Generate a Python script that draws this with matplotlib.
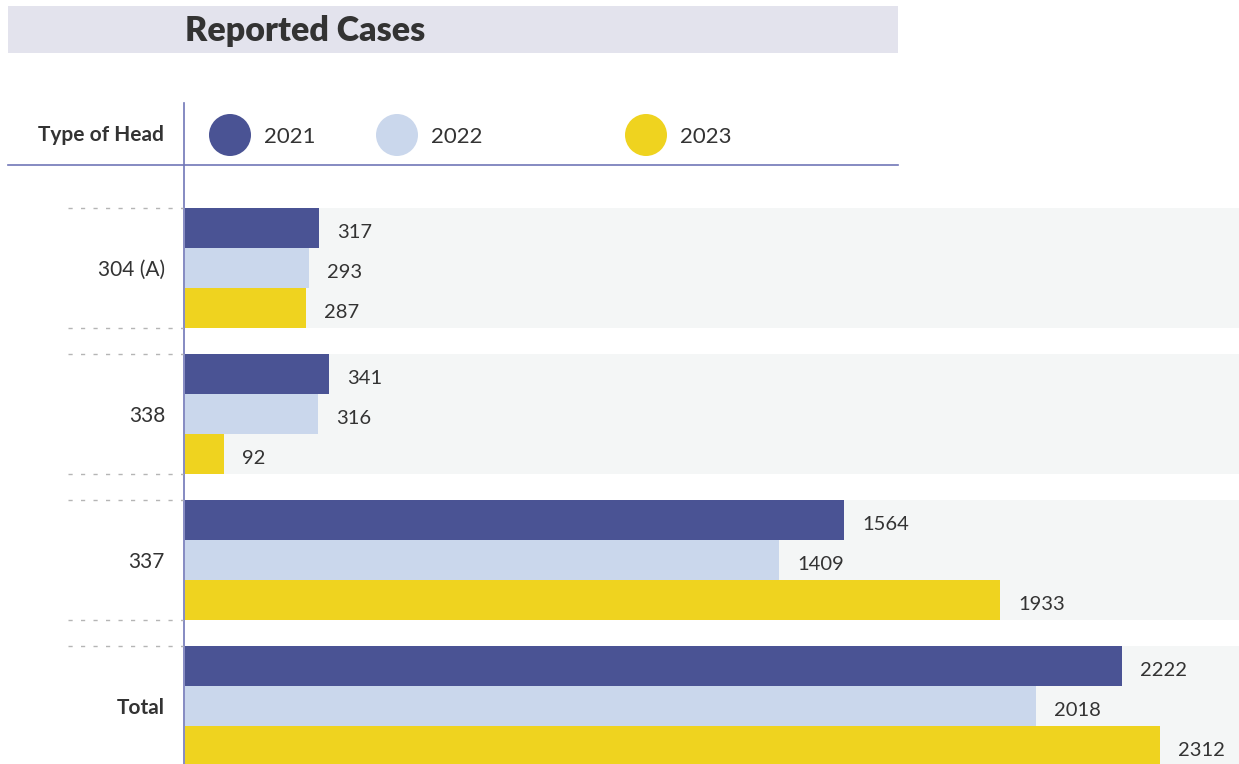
import matplotlib.pyplot as plt
from matplotlib.patches import Rectangle, Circle

plt.rcParams['font.family'] = ['Lato', 'DejaVu Sans']

categories = ['304 (A)', '338', '337', 'Total']
years = ['2021', '2022', '2023']
cases_2021 = [317, 341, 1564, 2222]
cases_2022 = [293, 316, 1409, 2018]
cases_2023 = [287, 92, 1933, 2312]

colors = ['#4a5394', '#cad7ec', '#efd31f']
line_col = '#7177b8'
txt_col = '#333333'

W, H = 1239, 764
fig = plt.figure(figsize=(W / 100, H / 100), dpi=100)

# overlay axes in pixel units for the header pieces
bg = fig.add_axes([0, 0, 1, 1])
bg.set_xlim(0, W)
bg.set_ylim(H, 0)
bg.axis('off')

bg.add_patch(Rectangle((8, 6), 890, 47, color='#e3e3ed', lw=0))
bg.text(185, 31, 'Reported Cases', fontsize=24.5, fontweight='heavy', color=txt_col,
        va='center', ha='left')
bg.text(164, 135, 'Type of Head', fontsize=15, fontweight='bold', color=txt_col,
        va='center', ha='right')
leg_x = [230, 397, 646]
for x0, yr, c in zip(leg_x, years, colors):
    bg.add_patch(Circle((x0, 135), 21, color=c, lw=0))
    bg.text(x0 + 34, 137, yr, fontsize=16, color=txt_col, va='center', ha='left')
bg.plot([8, 898], [165, 165], color=line_col, lw=1.2)
bg.plot([184, 184], [103, H], color=line_col, lw=1.2)

# main bar axes
ax = fig.add_axes([185 / W, 0, (W - 185) / W, (H - 165) / H])
ax.set_zorder(2)
ax.patch.set_alpha(0)
pitch = 3.65
ax.set_xlim(0, 2500)
ax.set_ylim(13.9, -1.075)
ax.axis('off')

series = [cases_2021, cases_2022, cases_2023]
ytr = ax.get_yaxis_transform()
for i, cat in enumerate(categories):
    top = i * pitch
    ax.axhspan(top, top + 3, color='#f4f6f6', lw=0, zorder=0)
    for j, vals in enumerate(series):
        y = top + j + 0.5
        ax.barh(y, vals[i], height=1.0, color=colors[j], zorder=2)
        ax.annotate(str(vals[i]), (vals[i], y), xytext=(13, -3),
                    textcoords='offset points', va='center', ha='left',
                    fontsize=14.5, color=txt_col)
    for yy in (top, top + 3):
        ax.plot([-0.111, -0.002], [yy, yy], transform=ytr, clip_on=False,
                color='#b5b5b5', lw=1, dashes=(3, 6))
    ax.text(-0.019, top + 1.55, cat, transform=ytr, ha='right', va='center',
            fontsize=15, color=txt_col,
            fontweight='bold' if cat == 'Total' else 'normal')

fig.savefig('out.png', dpi=100)
